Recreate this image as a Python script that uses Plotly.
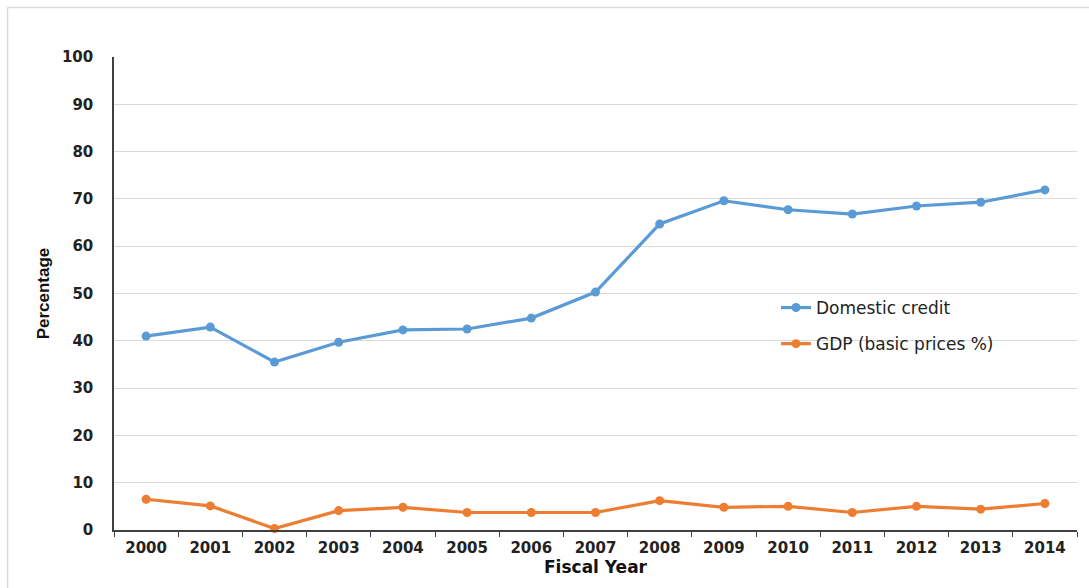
import plotly.graph_objects as go

years = ["2000", "2001", "2002", "2003", "2004", "2005", "2006", "2007",
         "2008", "2009", "2010", "2011", "2012", "2013", "2014"]
domestic_credit = [41.0, 42.9, 35.5, 39.7, 42.3, 42.5, 44.8, 50.3,
                   64.7, 69.6, 67.7, 66.8, 68.5, 69.3, 71.9]
gdp_basic = [6.5, 5.1, 0.3, 4.1, 4.8, 3.7, 3.7, 3.7,
             6.2, 4.8, 5.0, 3.7, 5.0, 4.4, 5.6]
y_ticks = [0, 10, 20, 30, 40, 50, 60, 70, 80, 90, 100]

BLUE = "#5b9bd5"
ORANGE = "#ed7d31"

fig = go.Figure()
fig.add_trace(go.Scatter(
    x=years, y=domestic_credit, name="Domestic credit", mode="lines+markers",
    line=dict(color=BLUE, width=3.2), marker=dict(color=BLUE, size=9),
    legendgroup="a", cliponaxis=False))
fig.add_trace(go.Scatter(
    x=years, y=gdp_basic, name="GDP (basic prices %)", mode="lines+markers",
    line=dict(color=ORANGE, width=3.2), marker=dict(color=ORANGE, size=9),
    legendgroup="b", cliponaxis=False))

W, H = 1089, 588
L, R, T, B = 114, 12, 57, 58
pw, ph = W - L - R, H - T - B

def px_x(p):
    return (p - L) / pw

def px_y(p):
    return 1 - (p - T) / ph

border = "#d9d9d9"
shapes = [
    dict(type="line", xref="paper", yref="paper",
         x0=px_x(7.5), x1=px_x(W + 5), y0=px_y(7.5), y1=px_y(7.5),
         line=dict(color=border, width=1.5)),
    dict(type="line", xref="paper", yref="paper",
         x0=px_x(7.5), x1=px_x(7.5), y0=px_y(7.5), y1=px_y(H + 5),
         line=dict(color=border, width=1.5)),
]

fig.update_layout(
    width=W, height=H,
    margin=dict(l=L, r=R, t=T, b=B),
    paper_bgcolor="white", plot_bgcolor="white",
    shapes=shapes,
    showlegend=True,
    legend=dict(x=px_x(776), y=px_y(290), xanchor="left", yanchor="top",
                bgcolor="rgba(0,0,0,0)", tracegroupgap=11,
                font=dict(family="DejaVu Sans", size=17, color="#222222")),
    xaxis=dict(
        type="category", range=[-0.5, 14.5], tickson="boundaries",
        ticks="outside", ticklen=5,
        tickcolor="#404040", showline=True, linecolor="#404040", linewidth=1.5,
        showgrid=False, automargin=False, ticklabelstandoff=3,
        tickfont=dict(family="DejaVu Sans", size=15, color="#222222", weight="bold"),
        title=dict(text="Fiscal Year", standoff=4,
                   font=dict(family="DejaVu Sans", size=17, color="#111111", weight="bold")),
    ),
    yaxis=dict(
        range=[0, 100], tickvals=y_ticks, ticks="", showline=True,
        linecolor="#404040", linewidth=1.5, showgrid=True, gridcolor="#d9d9d9",
        gridwidth=1, zeroline=False, automargin=False, ticklabelstandoff=16,
        tickfont=dict(family="DejaVu Sans", size=15, color="#222222", weight="bold"),
        title=dict(text="Percentage", standoff=8,
                   font=dict(family="Liberation Sans", size=17, color="#111111", weight="bold")),
    ),
)

fig.write_html("out.html")
